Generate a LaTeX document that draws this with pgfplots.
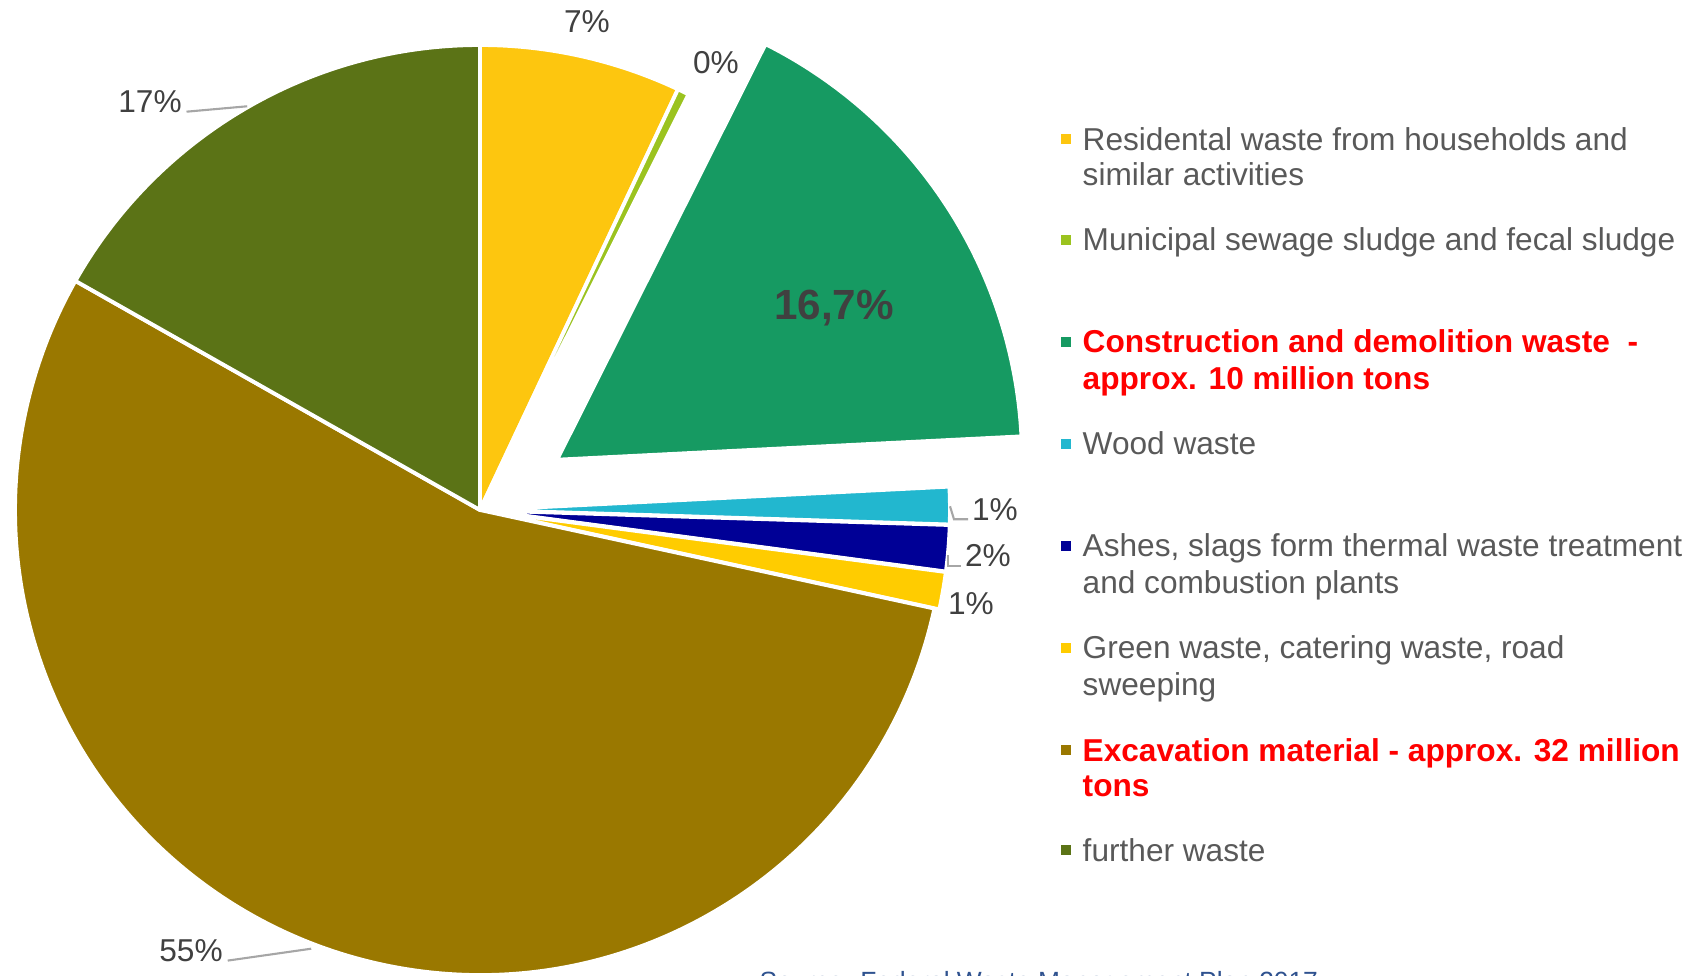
\documentclass[border=0pt]{standalone}
\usepackage{pgfplots}
\pgfplotsset{compat=1.18}
\usepackage{pgfplotstable}
\usepackage{fontspec}
\setmainfont{Liberation Sans}

\definecolor{c0}{HTML}{FDC60F}
\definecolor{c1}{HTML}{9BC31F}
\definecolor{c2}{HTML}{169A62}
\definecolor{c3}{HTML}{22B7CF}
\definecolor{c4}{HTML}{000096}
\definecolor{c5}{HTML}{FFCC00}
\definecolor{c6}{HTML}{9A7800}
\definecolor{c7}{HTML}{5B7316}
\definecolor{lbl}{HTML}{404040}
\definecolor{leg}{HTML}{595959}
\definecolor{ldr}{HTML}{A6A6A6}
\definecolor{src}{HTML}{2F528F}

% share in percent, explode distance in cm
\pgfplotstableread{
share explode
7.0 0
0.4 0
16.8 0.92
1.3 0.05
1.6 0.05
1.3 0.05
54.8 0
16.8 0
}\piedata

\begin{document}
\begin{tikzpicture}
\def\R{4.65}
\def\cx{4.80}
\def\cy{4.65}
\def\cum{0}
\pgfplotsforeachungrouped \i in {0,...,7}{%
  \pgfplotstablegetelem{\i}{share}\of\piedata
  \let\sh\pgfplotsretval
  \pgfplotstablegetelem{\i}{explode}\of\piedata
  \let\ex\pgfplotsretval
  \pgfmathsetmacro\sa{90-3.6*\cum}%
  \pgfmathsetmacro\cum{\cum+\sh}%
  \pgfmathsetmacro\ea{90-3.6*\cum}%
  \pgfmathsetmacro\ma{(\sa+\ea)/2}%
  \pgfmathsetmacro\ox{\cx+\ex*cos(\ma)}%
  \pgfmathsetmacro\oy{\cy+\ex*sin(\ma)}%
  \expandafter\xdef\csname ps\i\endcsname{\sa}%
  \expandafter\xdef\csname pe\i\endcsname{\ea}%
  \expandafter\xdef\csname px\i\endcsname{\ox}%
  \expandafter\xdef\csname py\i\endcsname{\oy}%
}
\begin{axis}[x=1cm, y=1cm, xmin=0, xmax=17, ymin=0, ymax=9.75,
  hide axis, clip=true, anchor=south west, at={(0,0)}]
\pgfplotsinvokeforeach{0,...,7}{%
  \edef\tmp{\noexpand\fill[fill=c#1, draw=white, line width=1.1pt, line join=round]
    (axis cs:\csname px#1\endcsname,\csname py#1\endcsname)
    -- ++(\csname ps#1\endcsname:\R cm)
    arc[start angle=\csname ps#1\endcsname, end angle=\csname pe#1\endcsname, radius=\R cm]
    -- cycle;}%
  \tmp
}
\coordinate (LL) at (axis cs:0,0);
\coordinate (UR) at (axis cs:17,9.75);

% data labels
\begin{scope}[every node/.style={text=lbl, inner sep=0pt, font=\fontsize{9}{10.8}\selectfont}]
\node at (axis cs:5.87,9.53) {7\%};
\node at (axis cs:7.16,9.12) {0\%};
\node at (axis cs:1.50,8.73) {17\%};
\node at (axis cs:1.91,0.24) {55\%};
\node at (axis cs:9.95,4.65) {1\%};
\node at (axis cs:9.88,4.19) {2\%};
\node at (axis cs:9.71,3.71) {1\%};
\end{scope}
\node[text=lbl, inner sep=0pt, font=\fontsize{12}{14}\selectfont\bfseries] at (axis cs:8.34,6.67) {16,7\%};
\begin{scope}[ldr, line width=0.6pt]
\draw (axis cs:1.865,8.633) -- (axis cs:2.472,8.687);
\draw (axis cs:2.277,0.144) -- (axis cs:3.112,0.263);
\draw (axis cs:9.50,4.687) -- (axis cs:9.54,4.557) -- (axis cs:9.68,4.557);
\draw (axis cs:9.476,4.199) -- (axis cs:9.476,4.09) -- (axis cs:9.606,4.09);
\end{scope}

% legend
\begin{scope}[every node/.style={anchor=base west, inner sep=0pt, text=leg, font=\fontsize{9}{10.8}\selectfont}]
\fill[c0] (axis cs:10.61,8.31) rectangle (axis cs:10.71,8.41);
\node at (axis cs:10.82,8.248) {Residental waste from households and};
\node at (axis cs:10.82,7.89) {similar activities};
\fill[c1] (axis cs:10.61,7.30) rectangle (axis cs:10.71,7.40);
\node at (axis cs:10.82,7.24) {Municipal sewage sludge and fecal sludge};
\fill[c2] (axis cs:10.61,6.28) rectangle (axis cs:10.71,6.38);
\node[text=red, font=\fontsize{9}{10.8}\selectfont\bfseries] at (axis cs:10.82,6.22) {Construction and demolition waste\ \ -};
\node[text=red, font=\fontsize{9}{10.8}\selectfont\bfseries] at (axis cs:10.82,5.85) {approx. 10 million tons};
\fill[c3] (axis cs:10.61,5.26) rectangle (axis cs:10.71,5.36);
\node at (axis cs:10.82,5.20) {Wood waste};
\fill[c4] (axis cs:10.61,4.24) rectangle (axis cs:10.71,4.34);
\node at (axis cs:10.82,4.18) {Ashes, slags form thermal waste treatment};
\node at (axis cs:10.82,3.81) {and combustion plants};
\fill[c5] (axis cs:10.61,3.22) rectangle (axis cs:10.71,3.32);
\node at (axis cs:10.82,3.16) {Green waste, catering waste, road};
\node at (axis cs:10.82,2.80) {sweeping};
\fill[c6] (axis cs:10.61,2.20) rectangle (axis cs:10.71,2.30);
\node[text=red, font=\fontsize{9}{10.8}\selectfont\bfseries] at (axis cs:10.82,2.14) {Excavation material - approx. 32 million};
\node[text=red, font=\fontsize{9}{10.8}\selectfont\bfseries] at (axis cs:10.82,1.79) {tons};
\fill[c7] (axis cs:10.61,1.20) rectangle (axis cs:10.71,1.30);
\node at (axis cs:10.82,1.14) {further waste};
\end{scope}
\node[anchor=base west, inner sep=0pt, text=src, font=\fontsize{7.5}{9}\selectfont] at (axis cs:7.59,-0.155) {Source: Federal Waste Management Plan 2017};
\end{axis}
\pgfresetboundingbox
\useasboundingbox (LL) rectangle (UR);
\end{tikzpicture}
\end{document}
